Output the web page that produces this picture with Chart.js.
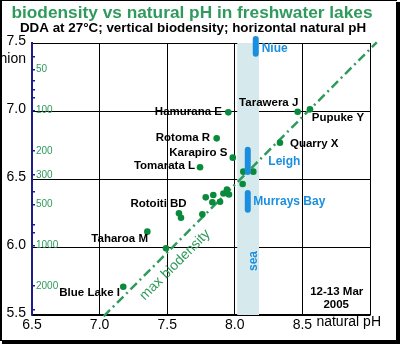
<!DOCTYPE html>
<html>
<head>
<meta charset="utf-8">
<script src="https://cdn.jsdelivr.net/npm/chart.js@4.4.1/dist/chart.umd.min.js"></script>
<style>
  body { margin: 0; background: #fff; }
</style>
</head>
<body>
<canvas id="chart" width="400" height="344"></canvas>
<script>
// natural pH ticks along the bottom
const phTicks = [6.5, 7.0, 7.5, 8.0, 8.5, 9.0];
// vertical scale (biodensity in pH-equivalent units)
const bioTicks = [5.5, 6.0, 6.5, 7.0, 7.37, 7.5];
const bioCutLabel = 7.37; // clipped axis caption
// inner biodensity count scale (log)
const countTicks = [40, 50, 60, 70, 80, 100, 200, 300, 400, 500, 700, 800, 1000, 2000, 3000];
const countLabels = [50, 100, 200, 300, 500, 1000, 2000];

// freshwater lakes
const lakePH  = [7.952, 7.866, 7.985, 7.743, 8.465, 8.556, 8.334, 8.063, 8.137, 8.058, 7.587, 7.602, 7.760, 7.785, 7.841, 7.834, 7.891, 7.916, 7.942, 7.957, 7.353, 7.491, 7.175];
const lakeBio = [6.990, 6.799, 6.657, 6.586, 6.995, 7.012, 6.767, 6.554, 6.554, 6.463, 6.248, 6.215, 6.240, 6.365, 6.382, 6.329, 6.333, 6.393, 6.423, 6.386, 6.113, 5.990, 5.708];

// sea sites (range of readings)
const seaNames = ['Niue', 'Leigh', 'Murrays Bay'];
const seaPH    = [8.155, 8.096, 8.096];
const seaLow   = [7.421, 6.551, 6.274];
const seaHigh  = [7.529, 6.715, 6.397];
const seaBand  = [8.018, 8.179];

// max biodensity line
const maxPH  = [7.03, 9.05];
const maxBio = [5.49, 7.505];

const GREEN = '#2f9a5c';
const DOT = '#0a8a3c';
const BLUE = '#1a8fdf';
const FONT = 'Liberation Sans, Arial, sans-serif';

// text labels, placed in data units
const notes = [
    { t: 'Hamurana E', x: 7.905, y: 6.993, a: 'right' },
    { t: 'Rotoma R', x: 7.817, y: 6.804, a: 'right' },
    { t: 'Karapiro S', x: 7.945, y: 6.693, a: 'right' },
    { t: 'Tomarata L', x: 7.706, y: 6.596, a: 'right' },
    { t: 'Tarawera J', x: 8.470, y: 7.061, a: 'right' },
    { t: 'Pupuke Y', x: 8.569, y: 6.951, a: 'left' },
    { t: 'Quarry X', x: 8.408, y: 6.755, a: 'left' },
    { t: 'Rotoiti BD', x: 7.644, y: 6.314, a: 'right' },
    { t: 'Taharoa M', x: 7.358, y: 6.057, a: 'right' },
    { t: 'Blue Lake I', x: 7.151, y: 5.662, a: 'right' },
    { t: '12-13 Mar', x: 8.754, y: 5.671, a: 'center' },
    { t: '2005', x: 8.750, y: 5.574, a: 'center' },
    { t: 'Niue', x: 8.199, y: 7.461, a: 'left', c: BLUE, s: 12 },
    { t: 'Leigh', x: 8.248, y: 6.627, a: 'left', c: BLUE, s: 12 },
    { t: 'Murrays Bay', x: 8.137, y: 6.333, a: 'left', c: BLUE, s: 12 },
    { t: 'sea', x: 8.142, y: 5.897, a: 'center', c: BLUE, s: 12, r: -Math.PI / 2 },
    { t: 'max biodensity', x: 7.558, y: 5.868, a: 'center', c: GREEN, s: 14, w: 'normal', r: -Math.PI / 4 }
];

const decor = {
    id: 'decor',
    afterDraw(chart) {
        const { ctx, scales: { x, y } } = chart;
        ctx.save();
        ctx.textBaseline = 'middle';
        // titles
        ctx.textAlign = 'center';
        ctx.fillStyle = GREEN;
        ctx.font = 'bold 17.3px ' + FONT;
        ctx.fillText('biodensity vs natural pH in freshwater lakes', 192, 13);
        ctx.fillStyle = '#000';
        ctx.font = 'bold 13.4px ' + FONT;
        ctx.fillText('DDA at 27°C; vertical biodensity; horizontal natural pH', 193, 28);
        // axis caption after 8.5
        ctx.textAlign = 'left';
        ctx.font = '14px ' + FONT;
        ctx.fillText('natural pH', x.getPixelForValue(8.5) + 14, 322);
        // labels
        notes.forEach(n => {
            ctx.save();
            ctx.translate(x.getPixelForValue(n.x), y.getPixelForValue(n.y));
            if (n.r) ctx.rotate(n.r);
            ctx.fillStyle = n.c || '#000';
            ctx.font = (n.w || 'bold') + ' ' + (n.s || 11.5) + 'px ' + FONT;
            ctx.textAlign = n.a;
            ctx.fillText(n.t, 0, 0);
            ctx.restore();
        });
        // frame with shadow
        ctx.fillStyle = '#000';
        ctx.fillRect(0, 0, 397, 1);
        ctx.fillRect(0, 0, 2, 341);
        ctx.fillRect(396, 2, 4, 342);
        ctx.fillRect(2, 340, 398, 4);
        ctx.restore();
    }
};

Chart.defaults.font.family = FONT;

new Chart(document.getElementById('chart'), {
    type: 'scatter',
    data: {
        datasets: [
            {
                type: 'line',
                data: [
                    { x: seaBand[0], y: 5.5 }, { x: seaBand[0], y: 7.5 },
                    { x: seaBand[1], y: 7.5 }, { x: seaBand[1], y: 5.5 }
                ],
                fill: 'shape',
                backgroundColor: '#d6eaee',
                borderWidth: 0,
                pointRadius: 0,
                order: 10
            },
            {
                type: 'line',
                data: maxPH.map((v, i) => ({ x: v, y: maxBio[i] })),
                borderColor: GREEN,
                borderWidth: 2.5,
                borderDash: [9, 4, 2, 4],
                pointRadius: 0,
                clip: 10,
                order: 5
            },
            {
                data: lakePH.map((v, i) => ({ x: v, y: lakeBio[i] })),
                backgroundColor: DOT,
                borderWidth: 0,
                pointRadius: 3.3,
                order: 2
            },
            ...seaNames.map((n, i) => ({
                type: 'line',
                label: n,
                data: [{ x: seaPH[i], y: seaLow[i] }, { x: seaPH[i], y: seaHigh[i] }],
                borderColor: BLUE,
                borderWidth: 6,
                borderCapStyle: 'round',
                pointRadius: 0,
                clip: 12,
                order: 1
            }))
        ]
    },
    options: {
        responsive: false,
        animation: false,
        layout: { padding: { top: 43, right: 30, bottom: 0, left: 0 } },
        plugins: { legend: { display: false }, tooltip: { enabled: false } },
        scales: {
            x: {
                type: 'linear',
                min: 6.5,
                max: 9.0,
                afterBuildTicks: s => { s.ticks = phTicks.map(v => ({ value: v })); },
                afterFit: s => { s.height = 29; },
                grid: { color: '#000', lineWidth: 1, drawTicks: false },
                border: { color: '#000', width: 1.5 },
                ticks: {
                    padding: 2, color: '#000', font: { size: 14 },
                    maxRotation: 0, autoSkip: false,
                    callback: v => v === 9 ? '' : v.toFixed(1)
                }
            },
            y: {
                type: 'linear',
                position: 'left',
                weight: 1,
                min: 5.5,
                max: 7.5,
                afterBuildTicks: s => { s.ticks = bioTicks.map(v => ({ value: v })); },
                afterFit: s => { s.width = 32; },
                grid: {
                    color: c => c.tick && c.tick.value === bioCutLabel ? 'rgba(0,0,0,0)' : '#000',
                    lineWidth: 1, drawTicks: false
                },
                border: { display: false },
                ticks: {
                    padding: 6, color: '#000', font: { size: 14 }, labelOffset: -2,
                    callback: v => v === bioCutLabel ? 'hion' : v.toFixed(1)
                }
            },
            count: {
                type: 'logarithmic',
                position: 'left',
                weight: 0,
                reverse: true,
                min: 31.7,
                max: 3279,
                afterBuildTicks: s => { s.ticks = countTicks.map(v => ({ value: v })); },
                afterFit: s => { s.width = 0; },
                grid: { drawOnChartArea: false, drawTicks: true, tickLength: -3, color: '#1c1c8a', lineWidth: 1.5 },
                border: { color: '#1c1c8a', width: 2 },
                ticks: {
                    mirror: true, padding: 4, color: GREEN, font: { size: 10 },
                    autoSkip: false,
                    callback: v => countLabels.includes(v) ? String(v) : ''
                }
            }
        }
    },
    plugins: [decor]
});
</script>
</body>
</html>
